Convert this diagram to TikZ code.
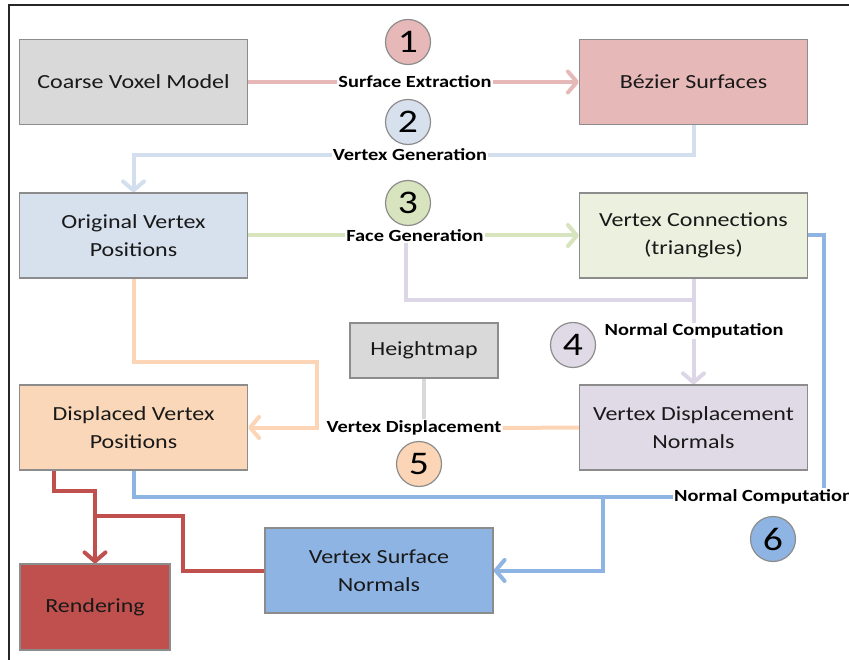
\documentclass[tikz,border=0pt]{standalone}
\usepackage{fontspec}
\setmainfont{Carlito}[FakeStretch=1.2]
\usepackage{xcolor}
\usetikzlibrary{positioning, calc, arrows.meta}

\definecolor{boxline}{HTML}{8C8C8C}
\definecolor{greyfill}{HTML}{D9D9D9}
\definecolor{pinkfill}{HTML}{E6B9B8}
\definecolor{skyfill}{HTML}{D7E1EE}
\definecolor{skyline}{HTML}{D3DFEE}
\definecolor{leaffill}{HTML}{EBF1DE}
\definecolor{leafline}{HTML}{D7E4BD}
\definecolor{peachfill}{HTML}{FAD7B8}
\definecolor{peachline}{HTML}{FBD5B5}
\definecolor{lilacfill}{HTML}{DFDAE6}
\definecolor{lilacline}{HTML}{DCD6E6}
\definecolor{bluefill}{HTML}{8EB4E3}
\definecolor{redfill}{HTML}{C0504D}

\pgfdeclarelayer{background}
\pgfsetlayers{background,main}

\begin{document}
\begin{tikzpicture}[
		x=1pt, y=-1pt,
		>={Straight Barb[length=9pt,width=21pt,round]},
		stage/.style={draw=boxline, line width=1.2pt, minimum width=228pt, minimum height=85pt, align=center, inner sep=0pt, text=black!90, font=\fontsize{20}{28}\selectfont},
		stepno/.style={circle, draw=boxline, line width=1.2pt, minimum size=45pt, inner sep=0pt, font=\fontsize{33}{33}\selectfont},
		tag/.style={fill=white, inner sep=1pt, font=\bfseries\fontsize{17}{20}\selectfont},
		link/.style={line width=4pt}
		]
		
		\useasboundingbox (0,0) rectangle (849,660);
		
		% ==========================================
		% FRAME
		% ==========================================
		\draw[line width=2.2pt, black!85] (849,5) -- (9,5) -- (9,660);
		
		% ==========================================
		% STAGES
		% ==========================================
		\node[stage, fill=greyfill] (voxel) at (133.5,82) {Coarse Voxel Model};
		\node[stage, fill=pinkfill] (bezier) at (693.5,82) {Bézier Surfaces};
		\node[stage, fill=skyfill] (origpos) at (133.5,235.5) {Original Vertex\\Positions};
		\node[stage, fill=leaffill] (triang) at (693.5,235.5) {Vertex Connections\\(triangles)};
		\node[stage, fill=greyfill, minimum width=148pt, minimum height=55pt] (hmap) at (424,350.5) {Heightmap};
		\node[stage, fill=peachfill] (disppos) at (133.5,427.5) {Displaced Vertex\\Positions};
		\node[stage, fill=lilacfill] (dispnorm) at (693.5,427.5) {Vertex Displacement\\Normals};
		\node[stage, fill=bluefill] (surfnorm) at (379,570.5) {Vertex Surface\\Normals};
		\node[stage, fill=redfill, minimum width=150pt, minimum height=86pt] (render) at (95,607) {Rendering};
		
		% ==========================================
		% STEP LABELS
		% ==========================================
		\node[tag] (extract) at (415,82) {Surface Extraction};
		\node[tag] (vgen) at (410,155) {Vertex Generation};
		\node[tag] (fgen) at (415,236) {Face Generation};
		\node[tag] (ncomp) at (694,331) {Normal Computation};
		\node[tag] (vdisp) at (414,428) {Vertex Displacement};
		\node[tag, anchor=west] (ncompb) at (673,497) {Normal Computation};
		
		\node[stepno, fill=pinkfill] (one) at (408,42) {1};
		\node[stepno, fill=skyfill] (two) at (408,122) {2};
		\node[stepno, fill=leafline] (three) at (408,203) {3};
		\node[stepno, fill=lilacfill] (four) at (573,345) {4};
		\node[stepno, fill=peachline] (five) at (419,464) {5};
		\node[stepno, fill=bluefill] (six) at (773,539) {6};
		
		% junctions
		\coordinate (ljoin) at (693.5,300);
		\coordinate (pjoin) at (317,362);
		\coordinate (bturn) at (824,235.5);
		\coordinate (bdrop) at (603,497);
		\coordinate (rjoin) at (95,491);
		\coordinate (rstep) at (183,516);
		
		% ==========================================
		% CONNECTORS
		% ==========================================
		\begin{pgfonlayer}{background}
			\draw[link, pinkfill, ->] (voxel.east) -- (bezier.west);
			\draw[link, skyline, ->] (bezier.south) |- (vgen) -| (origpos.north);
			\draw[link, leafline, ->] (origpos.east) -- (triang.west);
			
			\draw[link, lilacline] ([xshift=-9pt]fgen.south) |- (ljoin);
			\draw[link, lilacline, ->] (triang.south) -- (dispnorm.north);
			
			\draw[link, peachline, ->] (origpos.south) |- (pjoin) |- (disppos.east);
			\draw[link, peachline] (dispnorm.west) -- (vdisp.east);
			\draw[link, greyfill] (hmap.south) -- (hmap.south |- vdisp.north);
			
			\draw[link, bluefill] (triang.east) -- (bturn) -- (bturn |- ncompb.north);
			\draw[link, bluefill] (disppos.south) |- (ncompb.west);
			\draw[link, bluefill, ->] (bdrop) |- (surfnorm.east);
			
			\draw[link, redfill, ->] ([xshift=-79.5pt]disppos.south) |- (rjoin) -- (render.north);
			\draw[link, redfill] (surfnorm.west) -| (rstep) -- (rstep -| render.north);
		\end{pgfonlayer}
		
	\end{tikzpicture}
\end{document}
